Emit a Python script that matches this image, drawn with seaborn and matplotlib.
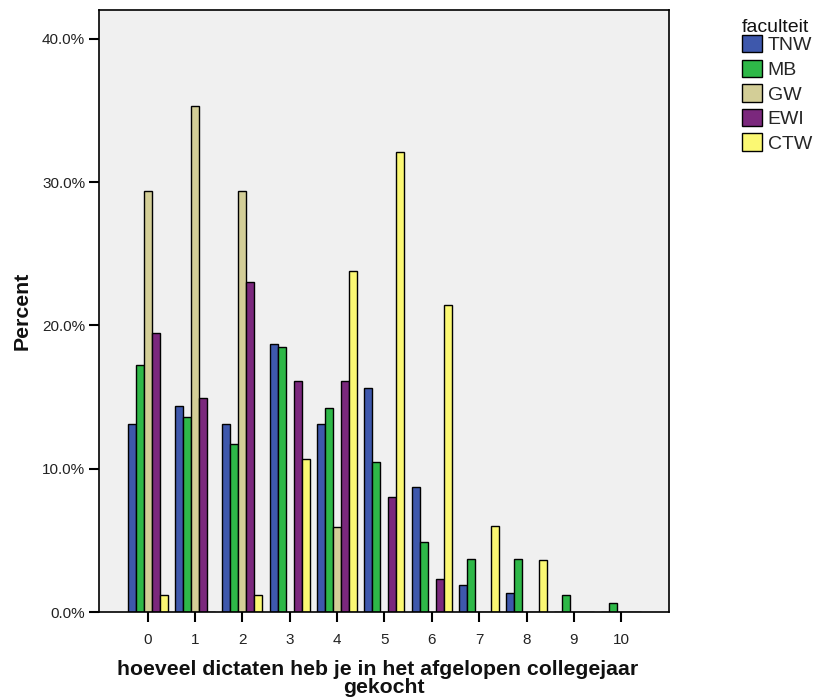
import pandas as pd
import matplotlib
matplotlib.use('Agg')
import matplotlib.pyplot as plt
import seaborn as sns
from matplotlib.ticker import FuncFormatter

# number of dictaten bought, percent per faculty
counts = list(range(11))
faculties = ['TNW', 'MB', 'GW', 'EWI', 'CTW']
tnw = [13.1, 14.4, 13.1, 18.7, 13.1, 15.6, 8.7, 1.9, 1.3, 0, 0]
mb = [17.2, 13.6, 11.7, 18.5, 14.2, 10.5, 4.9, 3.7, 3.7, 1.2, 0.6]
gw = [29.4, 35.3, 29.4, 0, 5.9, 0, 0, 0, 0, 0, 0]
ewi = [19.5, 14.9, 23.0, 16.1, 16.1, 8.0, 2.3, 0, 0, 0, 0]
ctw = [1.2, 0, 1.2, 10.7, 23.8, 32.1, 21.4, 6.0, 3.6, 0, 0]
colors = ['#3E58AC', '#2EB848', '#D3CE97', '#7B287D', '#FBF873']

rows = []
for fac, vals in zip(faculties, [tnw, mb, gw, ewi, ctw]):
    for c, v in zip(counts, vals):
        rows.append({'count': c, 'percent': v, 'faculteit': fac})
df = pd.DataFrame(rows)

sns.set_style('white')
plt.rcParams['font.family'] = ['Liberation Sans', 'DejaVu Sans']

fig = plt.figure(figsize=(8.15, 6.98), dpi=100)
ax = fig.add_axes([99 / 815, 1 - 612 / 698, 570 / 815, 602 / 698])
ax.set_facecolor('#F0F0F0')

sns.barplot(data=df, x='count', y='percent', hue='faculteit', hue_order=faculties,
            palette=colors, width=0.845, saturation=1, edgecolor='black',
            linewidth=1, ax=ax)

ax.set_xlim(-1.03, 11.01)
ax.set_ylim(0, 42)
ax.set_yticks([0, 10, 20, 30, 40])
ax.yaxis.set_major_formatter(FuncFormatter(lambda v, p: f'{v:.1f}%'))
ax.tick_params(axis='both', direction='out', length=7, width=1.5, labelsize=11,
               color='black', labelcolor='#222222', left=True, bottom=True)
ax.tick_params(axis='x', pad=8)
ax.tick_params(axis='y', pad=3)
for s in ax.spines.values():
    s.set_color('black')
    s.set_linewidth(1.2)

ax.set_xlabel('hoeveel dictaten heb je in het afgelopen collegejaar  \ngekocht',
              fontsize=15.3, fontweight='bold', linespacing=0.94, color='#111111')
ax.set_ylabel('Percent', fontsize=15.3, fontweight='bold', color='#111111')
ax.xaxis.set_label_coords(0.5, -0.08, transform=ax.transAxes)
ax.yaxis.set_label_coords(-0.135, 0.5, transform=ax.transAxes)
ax.xaxis.label.set_va('top')
ax.yaxis.label.set_va('center')

handles, labels = ax.get_legend_handles_labels()
ax.get_legend().remove()
fig.text(742 / 815, 1 - 19 / 698, 'faculteit', fontsize=14, va='top', ha='left',
         color='#111111')
leg = fig.legend(handles, labels, loc='upper left',
                 bbox_to_anchor=(742 / 815, 1 - 35 / 698), frameon=False,
                 fontsize=14, handlelength=1.03, handleheight=1.0,
                 labelspacing=0.27, handletextpad=0.3, borderpad=0,
                 borderaxespad=0)

plt.savefig('out.png', dpi=100)
